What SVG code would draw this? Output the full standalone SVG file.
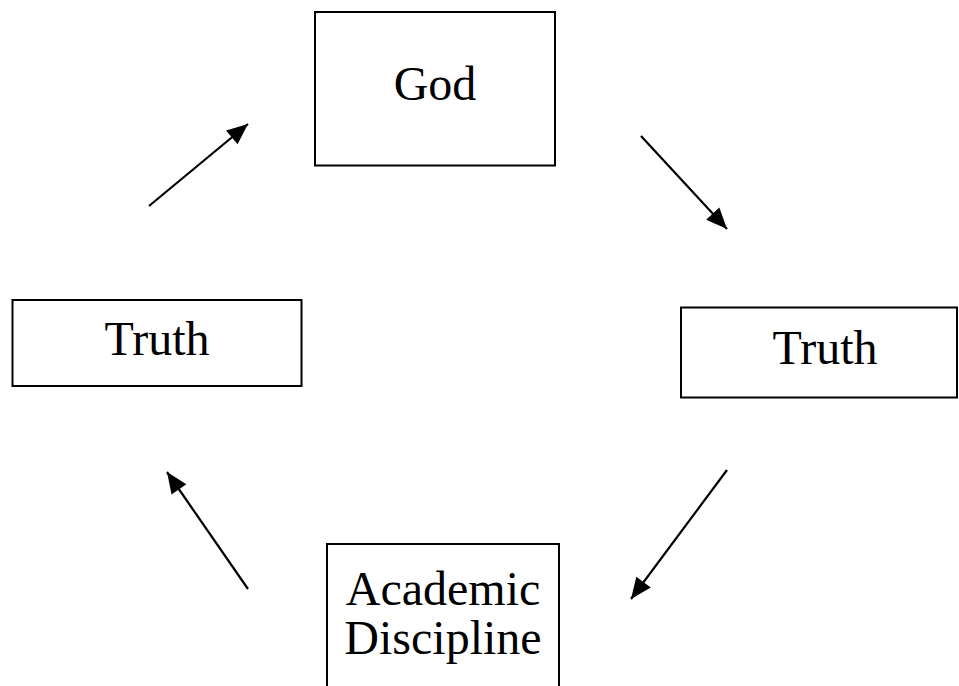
<svg xmlns="http://www.w3.org/2000/svg" width="959" height="686" viewBox="0 0 959 686">
<style>
.box{fill:#fff;stroke:#000;stroke-width:2}
.lbl{font-family:"Liberation Serif","Times New Roman",serif;font-size:48px;fill:#000;text-anchor:middle}
.con{stroke:#000;stroke-width:2.2;fill:none;marker-end:url(#ah)}
</style>
<defs>
<marker id="ah" markerUnits="userSpaceOnUse" markerWidth="24" markerHeight="20" refX="21" refY="9" orient="auto" overflow="visible">
<path d="M0,0 L21,9 L0,18 Z" fill="#000"/>
</marker>
</defs>
<rect width="959" height="686" fill="#fff"/>
<g id="god">
<rect class="box" x="315" y="12" width="240" height="153.5"/>
<text class="lbl" x="435" y="100">God</text>
</g>
<g id="truth-left">
<rect class="box" x="12.5" y="300" width="289" height="86"/>
<text class="lbl" x="157" y="355">Truth</text>
</g>
<g id="truth-right">
<rect class="box" x="681" y="307.5" width="276" height="90"/>
<text class="lbl" x="825" y="364">Truth</text>
</g>
<g id="academic">
<rect class="box" x="327" y="544" width="232" height="160"/>
<text class="lbl" x="443" y="605">Academic</text>
<text class="lbl" x="443" y="654">Discipline</text>
</g>
<g id="connectors">
<line class="con" x1="149" y1="206" x2="248" y2="124"/>
<line class="con" x1="641" y1="136" x2="727" y2="229"/>
<line class="con" x1="727" y1="470" x2="631" y2="599"/>
<line class="con" x1="248" y1="589" x2="167" y2="472"/>
</g>
</svg>
